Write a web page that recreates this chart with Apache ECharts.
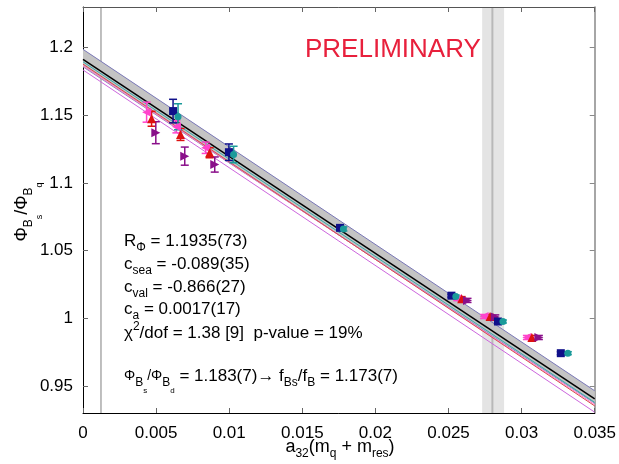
<!DOCTYPE html>
<html><head><meta charset="utf-8">
<script src="https://cdn.jsdelivr.net/npm/echarts@6/dist/echarts.min.js"></script>
<style>html,body{margin:0;padding:0;background:#fff}#c{width:619px;height:464px}</style>
</head><body><div id="c"></div>
<script>
// ---- axis ticks ----
const xTicks = [0, 0.005, 0.01, 0.015, 0.02, 0.025, 0.03, 0.035];
const xTickLabels = ['0', '0.005', '0.01', '0.015', '0.02', '0.025', '0.03', '0.035'];
const yTicks = [0.95, 1.0, 1.05, 1.1, 1.15, 1.2];
const yTickLabels = ['0.95', '1', '1.05', '1.1', '1.15', '1.2'];

// ---- data points (x, y, error) ----
const pinkX = [0.00435, 0.00639, 0.00839, 0.0256, 0.02743, 0.03036];
const pinkY = [1.1523, 1.1415, 1.1260, 1.0145, 1.0013, 0.9858];
const pinkE = [0.0074, 0.0045, 0.0042, 0.0015, 0.0015, 0.0015];

const redX = [0.00469, 0.00667, 0.00866, 0.0259, 0.02784, 0.0307];
const redY = [1.1474, 1.1358, 1.1223, 1.0145, 1.0013, 0.9858];
const redE = [0.0055, 0.0044, 0.0037, 0.0015, 0.0015, 0.0015];

const purpleX = [0.00498, 0.00696, 0.00901, 0.0263, 0.0282, 0.03118];
const purpleY = [1.1371, 1.1198, 1.1136, 1.0132, 1.0010, 0.9858];
const purpleE = [0.0081, 0.0067, 0.0056, 0.0015, 0.0015, 0.0015];

const navyX = [0.00616, 0.00998, 0.01758, 0.0252, 0.02838, 0.03268];
const navyY = [1.1531, 1.1227, 1.0668, 1.0167, 0.9976, 0.9742];
const navyE = [0.0087, 0.0061, 0.0015, 0.0011, 0.0011, 0.0011];

const tealX = [0.0065, 0.0103, 0.01781, 0.0255, 0.02872, 0.03316];
const tealY = [1.1489, 1.1210, 1.0660, 1.0160, 0.9976, 0.9742];
const tealE = [0.0096, 0.0061, 0.0015, 0.0011, 0.0011, 0.0011];

// ---- fit curves ----
const fitX = [0, 0.035];
const fitCentral = [1.1913, 0.9404];
const bandUpper = [1.1987, 0.9464];
const bandLower = [1.1858, 0.9372];
const fitTeal = [1.1895, 0.9378];
const fitRed = [1.1878, 0.9352];
const fitPink = [1.1866, 0.9362];
const fitViolet = [1.1835, 0.9306];

const chiralX = 0.00123;
const physX = 0.0280;
const physBand = [0.0273, 0.0288];

const FF = '"Liberation Sans", Arial, Helvetica, sans-serif';
const chart = echarts.init(document.getElementById('c'));

function pairs(xs, ys) { return xs.map((x, i) => [x, ys[i]]); }
function triples(xs, ys, es) { return xs.map((x, i) => [x, ys[i], es[i]]); }

function errSeries(xs, ys, es, color) {
  return {
    type: 'custom', silent: true, z: 4, clip: true,
    data: triples(xs, ys, es),
    encode: { x: 0, y: 1 },
    renderItem: function (params, api) {
      const x = api.value(0), y = api.value(1), e = api.value(2);
      const hi = api.coord([x, y + e]), lo = api.coord([x, y - e]);
      const w = 4, st = { stroke: color, lineWidth: 1.5 };
      return { type: 'group', children: [
        { type: 'line', shape: { x1: hi[0], y1: hi[1], x2: lo[0], y2: lo[1] }, style: st },
        { type: 'line', shape: { x1: hi[0] - w, y1: hi[1], x2: hi[0] + w, y2: hi[1] }, style: st },
        { type: 'line', shape: { x1: lo[0] - w, y1: lo[1], x2: lo[0] + w, y2: lo[1] }, style: st }
      ]};
    }
  };
}
function markSeries(xs, ys, color, symbol, size, rot) {
  return {
    type: 'scatter', silent: true, z: 5, data: pairs(xs, ys),
    symbol: symbol, symbolSize: size, symbolRotate: rot || 0,
    itemStyle: { color: color, opacity: 1 }
  };
}
function fitLine(ys, color, w, z) {
  return {
    type: 'line', silent: true, z: z || 2, data: pairs(fitX, ys), showSymbol: false,
    lineStyle: { color: color, width: w }
  };
}
function vLine(x, color, w) {
  return {
    type: 'custom', silent: true, z: 0, clip: true, data: [[x, 1]], encode: { x: 0 },
    renderItem: function (params, api) {
      const cs = params.coordSys;
      const p = api.coord([api.value(0), 1]);
      return { type: 'line', shape: { x1: p[0], y1: cs.y, x2: p[0], y2: cs.y + cs.height },
        style: { stroke: color, lineWidth: w } };
    }
  };
}
function vBand(x0, x1, color) {
  return {
    type: 'custom', silent: true, z: 0, clip: true, data: [[x0, x1]], encode: { x: [0, 1] },
    renderItem: function (params, api) {
      const cs = params.coordSys;
      const a = api.coord([api.value(0), 1]), b = api.coord([api.value(1), 1]);
      return { type: 'rect', shape: { x: a[0], y: cs.y, width: b[0] - a[0], height: cs.height },
        style: { fill: color } };
    }
  };
}

const rich = {
  m: { fontSize: 17, fontFamily: FF, color: '#000', lineHeight: 19 },
  s: { fontSize: 12, fontFamily: FF, color: '#000', lineHeight: 13, padding: [13, 0, 0, 0] },
  p: { fontSize: 12, fontFamily: FF, color: '#000', lineHeight: 13, padding: [0, 0, 13, 0] },
  g: { fontSize: 14, fontFamily: FF, color: '#000', lineHeight: 15 },
  ss: { fontSize: 8, fontFamily: FF, color: '#000', lineHeight: 8, padding: [30, 0, 0, 0] }
};
function txt(x, y, s) {
  return { type: 'text', x: x, y: y, z: 20, silent: true,
    style: { text: s, rich: rich, verticalAlign: 'middle', align: 'left', fill: '#000' } };
}

const nameRich = {
  m: { fontSize: 18, fontFamily: FF, color: '#000', lineHeight: 20 },
  s: { fontSize: 12, fontFamily: FF, color: '#000', lineHeight: 13, padding: [14, 0, 0, 0] },
  ss: { fontSize: 9, fontFamily: FF, color: '#000', lineHeight: 9, padding: [36, 0, 0, 0] }
};

const option = {
  animation: false,
  backgroundColor: '#fff',
  grid: { left: 83, right: 23, top: 7, bottom: 51, containLabel: false },
  xAxis: [
    { type: 'value', min: 0, max: 0.035, interval: 0.005, position: 'bottom',
      axisLine: { onZero: false, lineStyle: { color: '#000', width: 1 } },
      axisTick: { inside: true, length: 5, lineStyle: { color: '#666' } },
      axisLabel: { fontSize: 17, fontFamily: FF, color: '#000', margin: 12,
        formatter: v => { const i = xTicks.findIndex(t => Math.abs(t - v) < 1e-9); return i >= 0 ? xTickLabels[i] : ''; } },
      splitLine: { show: false } },
    { type: 'value', min: 0, max: 0.035, interval: 0.005, position: 'top',
      axisLine: { onZero: false, lineStyle: { color: '#555', width: 1 } },
      axisTick: { inside: true, length: 5, lineStyle: { color: '#666' } },
      axisLabel: { show: false }, splitLine: { show: false } }
  ],
  yAxis: [
    { type: 'value', min: 0.93, max: 1.23, position: 'left',
      axisLine: { onZero: false, lineStyle: { color: '#000', width: 1 } },
      axisTick: { inside: true, length: 5, customValues: yTicks, lineStyle: { color: '#666' } },
      axisLabel: { fontSize: 17, fontFamily: FF, color: '#000', margin: 10, customValues: yTicks,
        formatter: v => { const i = yTicks.findIndex(t => Math.abs(t - v) < 1e-9); return i >= 0 ? yTickLabels[i] : ''; } },
      splitLine: { show: false } },
    { type: 'value', min: 0.93, max: 1.23, position: 'right',
      axisLine: { onZero: false, lineStyle: { color: '#888', width: 1.5 } },
      axisTick: { inside: true, length: 5, customValues: yTicks, lineStyle: { color: '#888' } },
      axisLabel: { show: false }, splitLine: { show: false } }
  ],
  series: [
    vBand(physBand[0], physBand[1], '#e4e4e4'),
    vLine(physX, '#b8b8b8', 2),
    vLine(chiralX, '#aaaaaa', 1.5),
    { type: 'custom', silent: true, z: 1, clip: true, data: [[0, 1]],
      renderItem: function (params, api) {
        const up = fitX.map((x, i) => api.coord([x, bandUpper[i]]));
        const lo = fitX.map((x, i) => api.coord([x, bandLower[i]])).reverse();
        return { type: 'group', children: [
          { type: 'polygon', shape: { points: up.concat(lo) }, style: { fill: '#c4c4c4' } },
          { type: 'polyline', shape: { points: up }, style: { stroke: '#7a78b8', lineWidth: 1, fill: null } },
          { type: 'polyline', shape: { points: lo }, style: { stroke: '#8f8dc0', lineWidth: 1, fill: null } }
        ]};
      } },
    fitLine(fitViolet, '#cc66dd', 1, 2),
    fitLine(fitPink, '#ff77cc', 1, 2),
    fitLine(fitRed, '#d94a4a', 1, 2),
    fitLine(fitTeal, '#33aaaa', 1, 2),
    fitLine(fitCentral, '#000000', 1.5, 3),
    errSeries(pinkX, pinkY, pinkE, '#ff44cc'),
    errSeries(redX, redY, redE, '#dd1111'),
    errSeries(purpleX, purpleY, purpleE, '#8a0f8a'),
    errSeries(navyX, navyY, navyE, '#10108a'),
    errSeries(tealX, tealY, tealE, '#1a9a9a'),
    markSeries(pinkX, pinkY, '#ff44cc', 'triangle', 9, 90),
    markSeries(redX, redY, '#dd1111', 'triangle', 9, 0),
    markSeries(purpleX, purpleY, '#8a0f8a', 'triangle', 9, -90),
    markSeries(navyX, navyY, '#10108a', 'rect', 8, 0),
    markSeries(tealX, tealY, '#1a9a9a', 'circle', 7, 0)
  ],
  graphic: [
    { type: 'text', x: 305, y: 50, z: 20, silent: true,
      style: { text: 'PRELIMINARY', fontSize: 26, fontFamily: FF, fill: '#e8203c', verticalAlign: 'middle', align: 'left' } },
    txt(124, 241, '{m|R}{s|Φ}{m| = 1.1935(73)}'),
    txt(124, 264, '{m|c}{s|sea}{m| = -0.089(35)}'),
    txt(124, 287, '{m|c}{s|val}{m| = -0.866(27)}'),
    txt(124, 309, '{m|c}{s|a}{m| = 0.0017(17)}'),
    txt(124, 333, '{m|χ}{p|2}{m|/dof = 1.38 [9]  p-value = 19%}'),
    txt(124, 376, '{g|Φ}{s|B}{ss|s}{g|/Φ}{s|B}{ss|d}{m| = 1.183(7)→ f}{s|Bs}{m|/f}{s|B}{m| = 1.173(7)}'),
    { type: 'text', x: 340, y: 447, z: 20, silent: true,
      style: { text: '{m|a}{s|32}{m|(m}{s|q}{m| + m}{s|res}{m|)}', rich: nameRich, align: 'center', verticalAlign: 'middle' } },
    { type: 'text', x: 22, y: 212, rotation: Math.PI / 2, z: 20, silent: true,
      style: { text: '{m|Φ}{s|B}{ss|s}{m|/Φ}{s|B}{ss|q}', rich: nameRich, align: 'center', verticalAlign: 'middle' } }
  ]
};
chart.setOption(option);
</script>
</body></html>
